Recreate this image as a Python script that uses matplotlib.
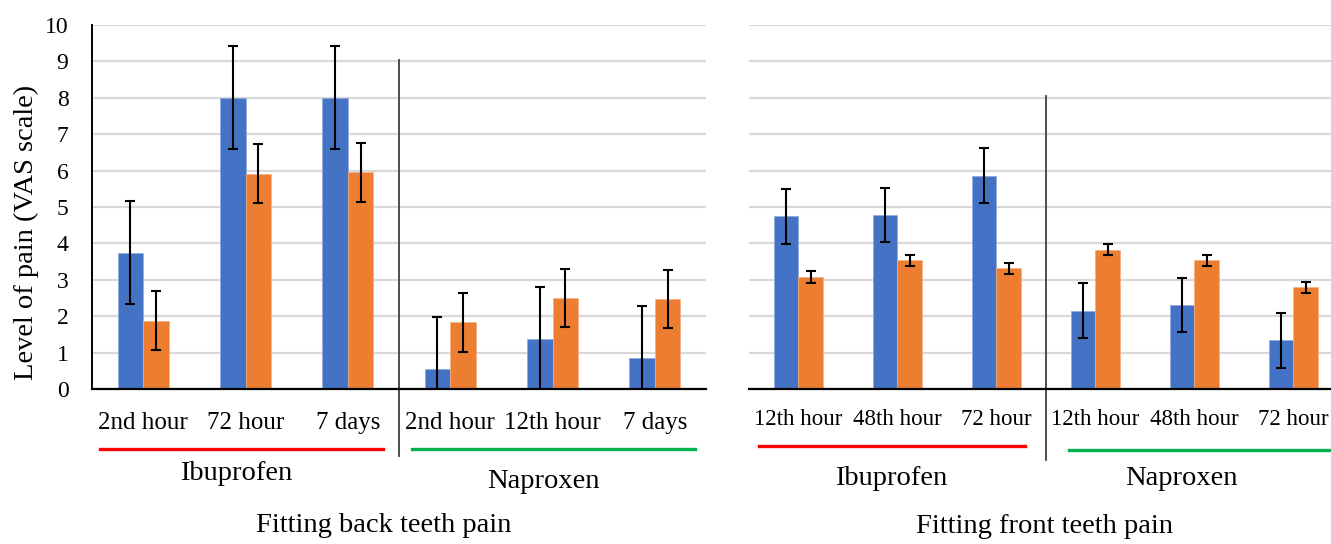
import numpy as np
import matplotlib
matplotlib.use("Agg")
import matplotlib.pyplot as plt

# back teeth (left panel)
back_labels = ["2nd hour", "72 hour", "7 days", "2nd hour", "12th hour", "7 days"]
back_blue = [3.75, 8.0, 8.0, 0.55, 1.37, 0.84]
back_blue_err = [1.42, 1.42, 1.42, 1.43, 1.44, 1.43]
back_orange = [1.88, 5.92, 5.96, 1.84, 2.49, 2.47]
back_orange_err = [0.80, 0.80, 0.81, 0.81, 0.80, 0.80]

# front teeth (right panel)
front_labels = ["12th hour", "48th hour", "72 hour", "12th hour", "48th hour", "72 hour"]
front_blue = [4.74, 4.78, 5.86, 2.15, 2.31, 1.34]
front_blue_err = [0.75, 0.75, 0.75, 0.75, 0.75, 0.75]
front_orange = [3.07, 3.54, 3.32, 3.83, 3.54, 2.79]
front_orange_err = [0.16, 0.15, 0.15, 0.16, 0.15, 0.15]

drugs = ["Ibuprofen", "Naproxen"]
yticks = list(range(0, 11))

BLUE = "#4472C4"
ORANGE = "#ED7D31"
W, H = 1331, 544
BIG = 20.5

plt.rcParams["font.family"] = ["Liberation Serif", "DejaVu Serif"]

fig = plt.figure(figsize=(W / 100, H / 100), dpi=100)


def px_axes(x0, x1, ytop, ybot):
    return fig.add_axes([x0 / W, (H - ybot) / H, (x1 - x0) / W, (ybot - ytop) / H])


def draw_panel(ax, labels, blue, blue_err, orange, orange_err, label_size, label_pad):
    x = np.arange(len(labels))
    bw = 0.25
    ekw = dict(ecolor="black", elinewidth=1.5, capsize=3.6, capthick=1.5)
    ax.bar(x - bw / 2, blue, bw, color=BLUE, edgecolor="#8eaadb", linewidth=0.5,
           yerr=blue_err, error_kw=ekw, zorder=2)
    ax.bar(x + bw / 2, orange, bw, color=ORANGE, edgecolor="#f4b183", linewidth=0.5,
           yerr=orange_err, error_kw=ekw, zorder=2)
    ax.set_xlim(-0.5, len(labels) - 0.5)
    ax.set_ylim(0, 10)
    ax.set_yticks(yticks)
    ax.grid(axis="y", color="#d9d9d9", linewidth=1.6, zorder=0)
    ax.set_axisbelow(True)
    ax.set_xticks(x)
    ax.set_xticklabels(labels, fontsize=label_size)
    ax.tick_params(axis="x", length=0, pad=label_pad)
    for s in ["top", "right"]:
        ax.spines[s].set_visible(False)
    ax.spines["bottom"].set_color("black")
    ax.spines["bottom"].set_linewidth(1.6)


# left panel
ax1 = px_axes(92, 706, 25, 389)
draw_panel(ax1, back_labels, back_blue, back_blue_err, back_orange, back_orange_err, 18, 16.5)
ax1.spines["left"].set_color("black")
ax1.spines["left"].set_linewidth(1.4)
ax1.tick_params(axis="y", length=0, pad=17, labelsize=17)
ax1.text(-0.107, 0.429, "Level of pain (VAS scale)", transform=ax1.transAxes, rotation=90,
         ha="center", va="center", fontsize=BIG)

t1 = ax1.get_xaxis_transform()
ax1.plot([2.5, 2.5], [0.904, -0.184], transform=t1, color="#404040", lw=1.3, clip_on=False)
ax1.plot([-0.42, 2.34], [-0.165, -0.165], transform=t1, color="#ff0000", lw=2.4, clip_on=False)
ax1.plot([2.63, 5.39], [-0.165, -0.165], transform=t1, color="#00b050", lw=2.4, clip_on=False)
ax1.text(0.907, -0.231, drugs[0], transform=t1, ha="center", va="center", fontsize=BIG)
ax1.text(3.907, -0.255, drugs[1], transform=t1, ha="center", va="center", fontsize=BIG)
ax1.text(2.35, -0.374, "Fitting back teeth pain", transform=t1, ha="center", va="center", fontsize=BIG)

# right panel (runs a little past the image edge)
ax2 = px_axes(749, 1343, 25, 389)
draw_panel(ax2, front_labels, front_blue, front_blue_err, front_orange, front_orange_err, 16.5, 14.5)
ax2.spines["left"].set_visible(False)
ax2.tick_params(axis="y", length=0, labelleft=False)

t2 = ax2.get_xaxis_transform()
ax2.plot([2.5, 2.5], [0.805, -0.195], transform=t2, color="#404040", lw=1.3, clip_on=False)
ax2.plot([-0.399, 2.29], [-0.157, -0.157], transform=t2, color="#ff0000", lw=2.4, clip_on=False)
ax2.plot([2.73, 5.6], [-0.168, -0.168], transform=t2, color="#00b050", lw=2.4, clip_on=False)
ax2.text(0.934, -0.245, drugs[0], transform=t2, ha="center", va="center", fontsize=BIG)
ax2.text(3.87, -0.245, drugs[1], transform=t2, ha="center", va="center", fontsize=BIG)
ax2.text(2.48, -0.378, "Fitting front teeth pain", transform=t2, ha="center", va="center", fontsize=BIG)

fig.savefig("out.png", dpi=100)
